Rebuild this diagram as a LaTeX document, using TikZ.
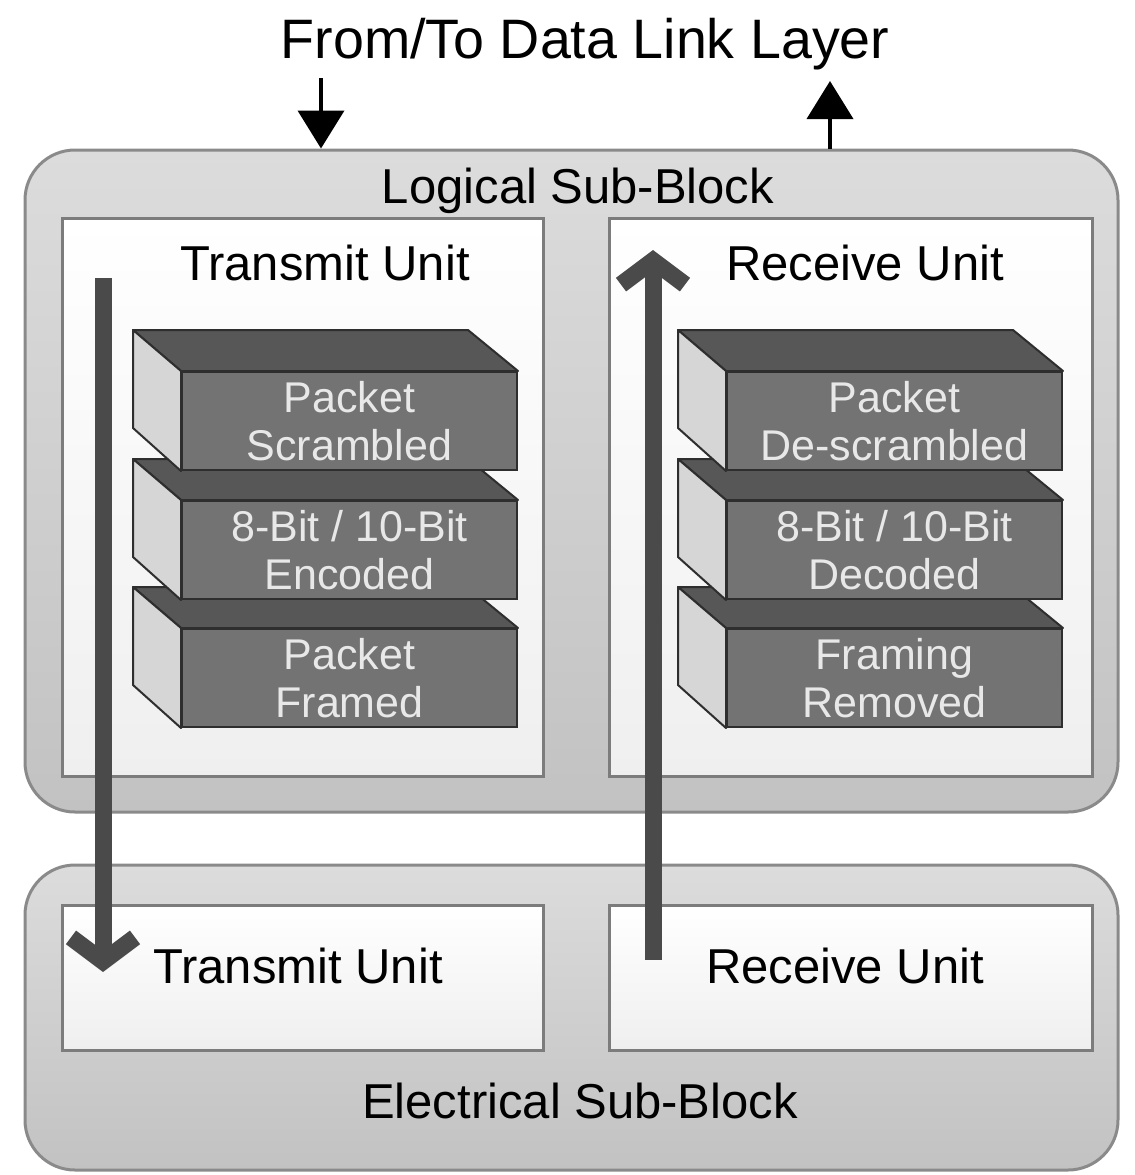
\documentclass[tikz,border=0pt]{standalone}
\usepackage{fontspec}
\setmainfont{Liberation Sans}
\usetikzlibrary{arrows.meta,fit}

\definecolor{rimgray}{HTML}{8A8A8A}
\definecolor{blocktop}{HTML}{DCDCDC}
\definecolor{blockbottom}{HTML}{C2C2C2}
\definecolor{unitline}{HTML}{7C7C7C}
\definecolor{unitbottom}{HTML}{EFEFEF}
\definecolor{frontgray}{HTML}{737373}
\definecolor{topgray}{HTML}{575757}
\definecolor{sidegray}{HTML}{D6D6D6}
\definecolor{edgegray}{HTML}{2E2E2E}
\definecolor{facetext}{HTML}{E8E8E8}
\definecolor{flowgray}{HTML}{4A4A4A}

% one slab of the stack: front face plus top and left faces
\newcommand{\layerbox}[3]{%
  \node[layerfront] (#1) at (#2) {#3};
  \filldraw[layertop] (#1.north west) -- ++(-48,-41) -- ++(335,0) -- (#1.north east) -- cycle;
  \filldraw[layerside] (#1.north west) -- ++(-48,-41) -- ++(0,98) -- (#1.south west) -- cycle;
}

\begin{document}
\begin{tikzpicture}[x=0.5pt, y=-0.5pt,
    subblock/.style={draw=rimgray, line width=1.5pt, rounded corners=25pt, top color=blocktop, bottom color=blockbottom, inner sep=0pt},
    unitbox/.style={draw=unitline, line width=1.5pt, top color=white, bottom color=unitbottom, inner sep=0pt},
    heading/.style={anchor=base, font=\fontsize{24.5}{29}\selectfont},
    layerfront/.style={draw=edgegray, line width=1pt, fill=frontgray, text=facetext, align=center, inner sep=0pt, minimum width=167.5pt, minimum height=49pt, font=\fontsize{21.5}{24}\selectfont},
    layertop/.style={fill=topgray, draw=edgegray, line width=1pt, line join=round},
    layerside/.style={fill=sidegray, draw=edgegray, line width=1pt, line join=round},
    linkarrow/.style={-{Triangle[length=19pt,width=23pt]}, line width=2pt},
    flow/.style={draw=flowgray, line width=8.5pt, -{Straight Barb[length=12pt,width=32pt]}}
  ]
  \useasboundingbox (0,0) rectangle (1135,1175);

  \node[subblock, fit={(25,150) (1118,812)}] (logical) {};
  \node[subblock, fit={(25,865) (1118,1170)}] (electrical) {};
  \node[unitbox, fit={(62,218) (543,776)}] (lgtx) {};
  \node[unitbox, fit={(609,218) (1092,776)}] (lgrx) {};
  \node[unitbox, fit={(62,905) (543,1050)}] (eltx) {};
  \node[unitbox, fit={(609,905) (1092,1050)}] (elrx) {};

  \node[heading, font=\fontsize{27.8}{33}\selectfont] (datalink) at (585,58) {From/To Data Link Layer};
  \node[heading] (logicaltitle) at (578,203) {Logical Sub-Block};
  \node[heading] (lgtxtitle) at (325,280) {Transmit Unit};
  \node[heading] (lgrxtitle) at (865,280) {Receive Unit};
  \node[heading] (eltxtitle) at (298,983) {Transmit Unit};
  \node[heading] (elrxtitle) at (845,983) {Receive Unit};
  \node[heading] (electricaltitle) at (580,1118) {Electrical Sub-Block};

  \layerbox{txframe}{349.5,678}{Packet\\Framed}
  \layerbox{txcode}{349.5,550}{8-Bit / 10-Bit\\Encoded}
  \layerbox{txscram}{349.5,421}{Packet\\Scrambled}
  \layerbox{rxframe}{894.5,678}{Framing\\Removed}
  \layerbox{rxcode}{894.5,550}{8-Bit / 10-Bit\\Decoded}
  \layerbox{rxscram}{894.5,421}{Packet\\De-scrambled}

  \coordinate (down) at (321,78);
  \coordinate (up) at (830,81);
  \draw[linkarrow] (down) -- (down |- logical.north);
  \draw[linkarrow] (up |- logical.north) -- (up);

  \coordinate (txtop) at (103,278);
  \coordinate (txend) at (103,972);
  \coordinate (rxfoot) at (653,960);
  \coordinate (rxtip) at (653,250);
  \draw[flow] (txtop) -- (txend);
  \draw[flow] (rxfoot) -- (rxtip);
\end{tikzpicture}
\end{document}
